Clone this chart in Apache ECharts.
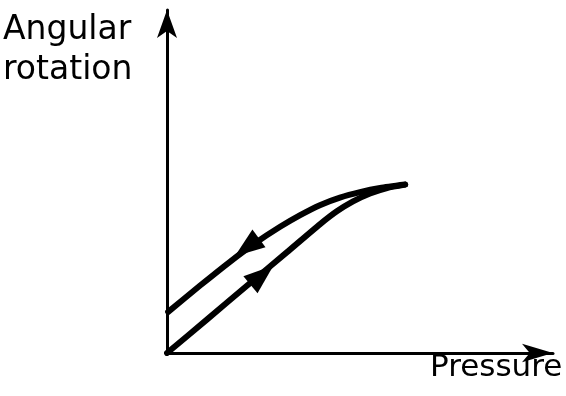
<!DOCTYPE html>
<html><head><meta charset="utf-8">
<script src="https://cdn.jsdelivr.net/npm/echarts@6/dist/echarts.min.js"></script>
<style>html,body{margin:0;padding:0;background:#fff}#c{width:566px;height:396px}</style>
</head><body><div id="c"></div>
<script>
// Loading (pressure increasing) curve
const loadingCurve = [[0,0],[10.4,9.8],[20.7,19.6],[31.1,29.4],[39.6,37.5],[44.0,41.3],[48.2,44.2],[52.6,46.5],[57.0,48.1],[61.7,49.1]];
// Unloading (pressure decreasing) curve
const unloadingCurve = [[61.7,49.1],[55.2,48.1],[50.0,46.9],[44.8,45.3],[39.6,43.1],[34.5,40.2],[29.3,36.8],[22.8,32.0],[16.3,26.6],[8.5,19.6],[0.3,12.0]];
// Direction arrows on the curves: [x, y]
const loadingArrow = [24.6, 22.7];
const unloadingArrow = [20.7, 30.8];
const xLabel = 'Pressure';
const yLabel = 'Angular\nrotation';

const chart = echarts.init(document.getElementById('c'));
function axis(size) {
  return {
    type: 'value', min: 0, max: 100,
    axisTick: {show: false}, axisLabel: {show: false}, splitLine: {show: false},
    axisLine: {show: true, onZero: false, symbol: ['none', 'arrow'], symbolSize: size, lineStyle: {color: '#000', width: 3}}
  };
}
chart.setOption({
  animation: false,
  backgroundColor: '#fff',
  grid: {left: 167, right: 13, top: 10, bottom: 43},
  xAxis: axis([14, 31]),
  yAxis: axis([15, 28]),
  series: [
    {type: 'line', data: loadingCurve, smooth: 0.2, symbol: 'none', lineStyle: {color: '#000', width: 6, cap: 'round', join: 'round'}},
    {type: 'line', data: unloadingCurve, smooth: 0.2, symbol: 'none', lineStyle: {color: '#000', width: 6, cap: 'round', join: 'round'}},
    {type: 'scatter', z: 5, data: [{value: loadingArrow, symbolRotate: -50}, {value: unloadingArrow, symbolRotate: 126.5}],
     symbol: 'triangle', symbolSize: [22, 30], itemStyle: {color: '#000', opacity: 1}}
  ],
  graphic: [
    {type: 'text', left: 3, top: 10, style: {text: yLabel, fontSize: 33, fontFamily: 'DejaVu Sans', fill: '#000', lineHeight: 40}},
    {type: 'text', left: 430, top: 352, style: {text: xLabel, fontSize: 31, fontFamily: 'DejaVu Sans', fill: '#000'}}
  ]
});
</script></body></html>
